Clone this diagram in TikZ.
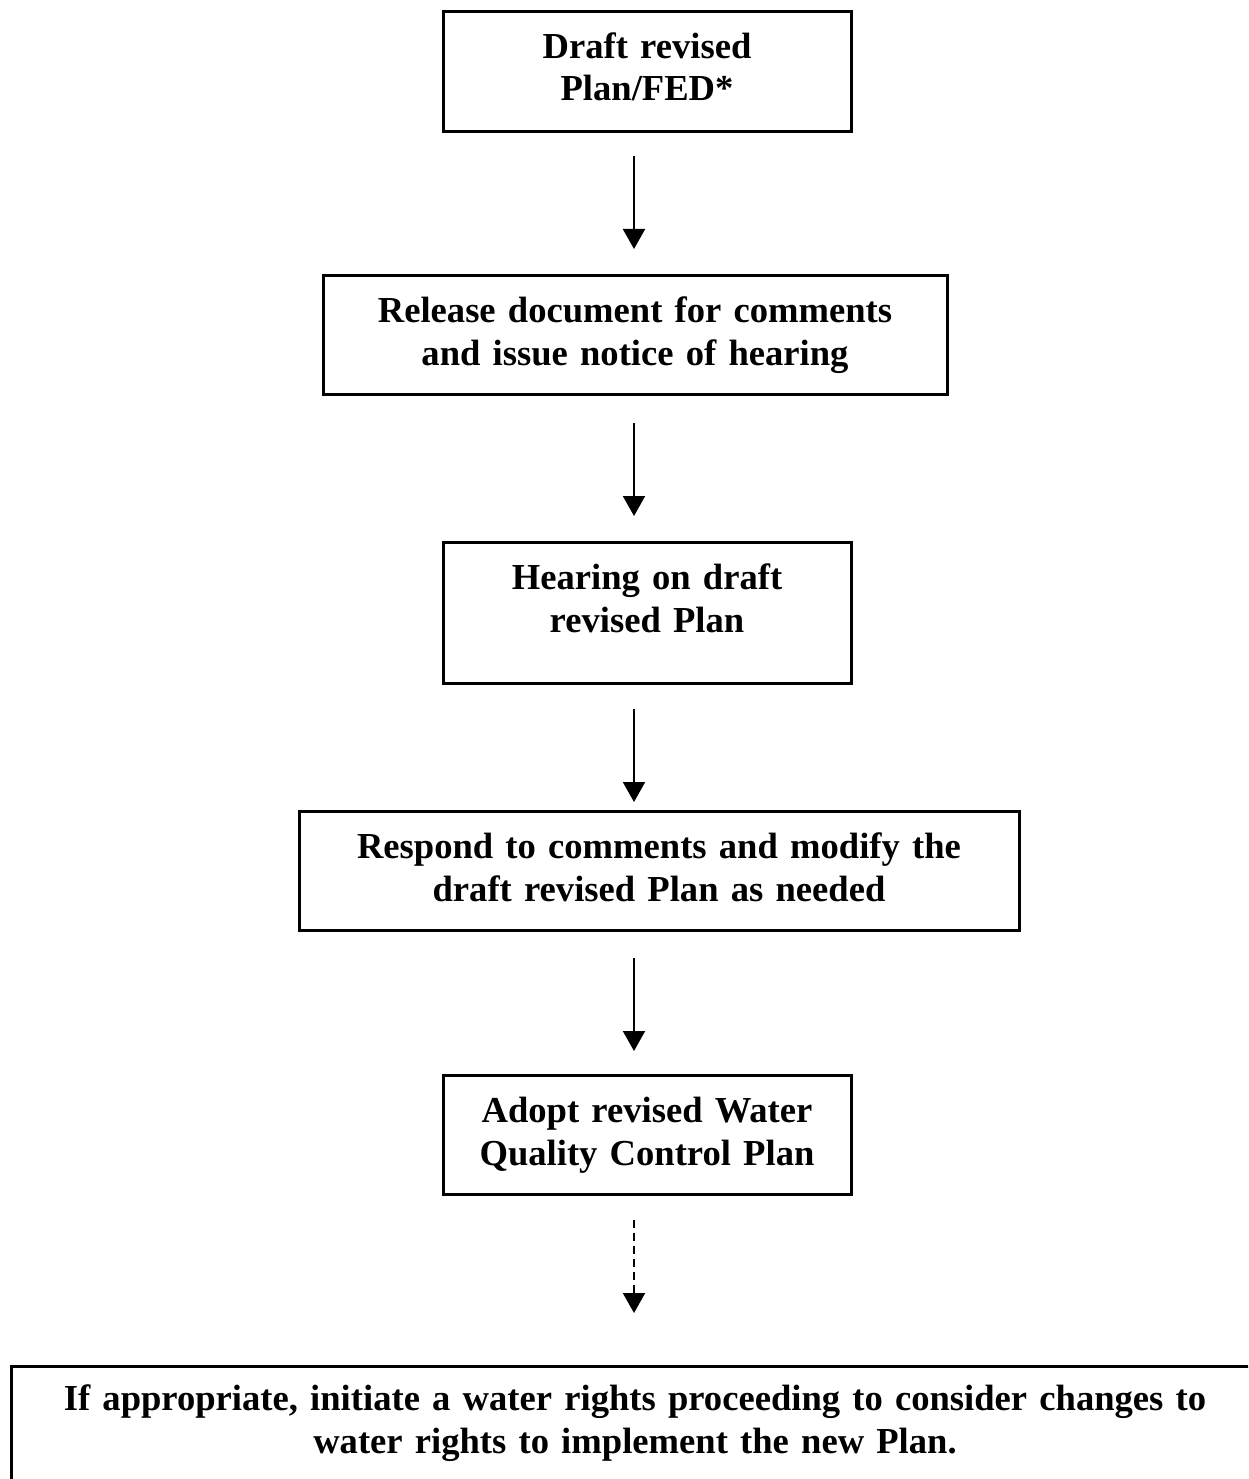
\documentclass[tikz,border=0pt]{standalone}
\usepackage{fontspec}
\setmainfont{Liberation Serif}
\usetikzlibrary{arrows.meta}

\tikzset{
	stage/.style={draw, line width=3pt, inner sep=0pt, align=center, anchor=north, text height=47pt, font=\bfseries\fontsize{36.6}{42.5}\selectfont},
	flow/.style={-{Triangle[width=22pt,length=20pt]}, line width=2pt},
}

\begin{document}
\begin{tikzpicture}[x=1pt,y=-1pt]
	\useasboundingbox (0,0) rectangle (1248,1479);
	\clip (0,0) rectangle (1248,1479);
	\node[stage, text width=408pt, text depth=73pt] (draft) at (647,10) {Draft revised\\Plan/FED*};
	\node[stage, text width=624pt, text depth=72pt] (release) at (635,274) {Release document for comments\\and issue notice of hearing};
	\node[stage, text width=408pt, text depth=94pt] (hearing) at (647,541) {Hearing on draft\\revised Plan};
	\node[stage, text width=720pt, text depth=72pt] (respond) at (659,810) {Respond to comments and modify the\\draft revised Plan as needed};
	\node[stage, text width=408pt, text depth=72pt] (adopt) at (647,1074) {Adopt revised Water\\Quality Control Plan};
	\node[stage, text width=1248pt, text height=44pt, text depth=150pt] (rights) at (635,1365) {If appropriate, initiate a water rights proceeding to consider changes to\\water rights to implement the new Plan.};
	\draw[flow] ([xshift=-13pt,yshift=-23pt]draft.south) -- ([xshift=-1pt,yshift=25pt]release.north);
	\draw[flow] ([xshift=-1pt,yshift=-27pt]release.south) -- ([xshift=-13pt,yshift=25pt]hearing.north);
	\draw[flow] ([xshift=-13pt,yshift=-24pt]hearing.south) -- ([xshift=-25pt,yshift=8pt]respond.north);
	\draw[flow] ([xshift=-25pt,yshift=-26pt]respond.south) -- ([xshift=-13pt,yshift=23pt]adopt.north);
	\draw[flow, dash pattern=on 8pt off 5pt] ([xshift=-13pt,yshift=-24pt]adopt.south) -- ([xshift=-1pt,yshift=52pt]rights.north);
\end{tikzpicture}
\end{document}
